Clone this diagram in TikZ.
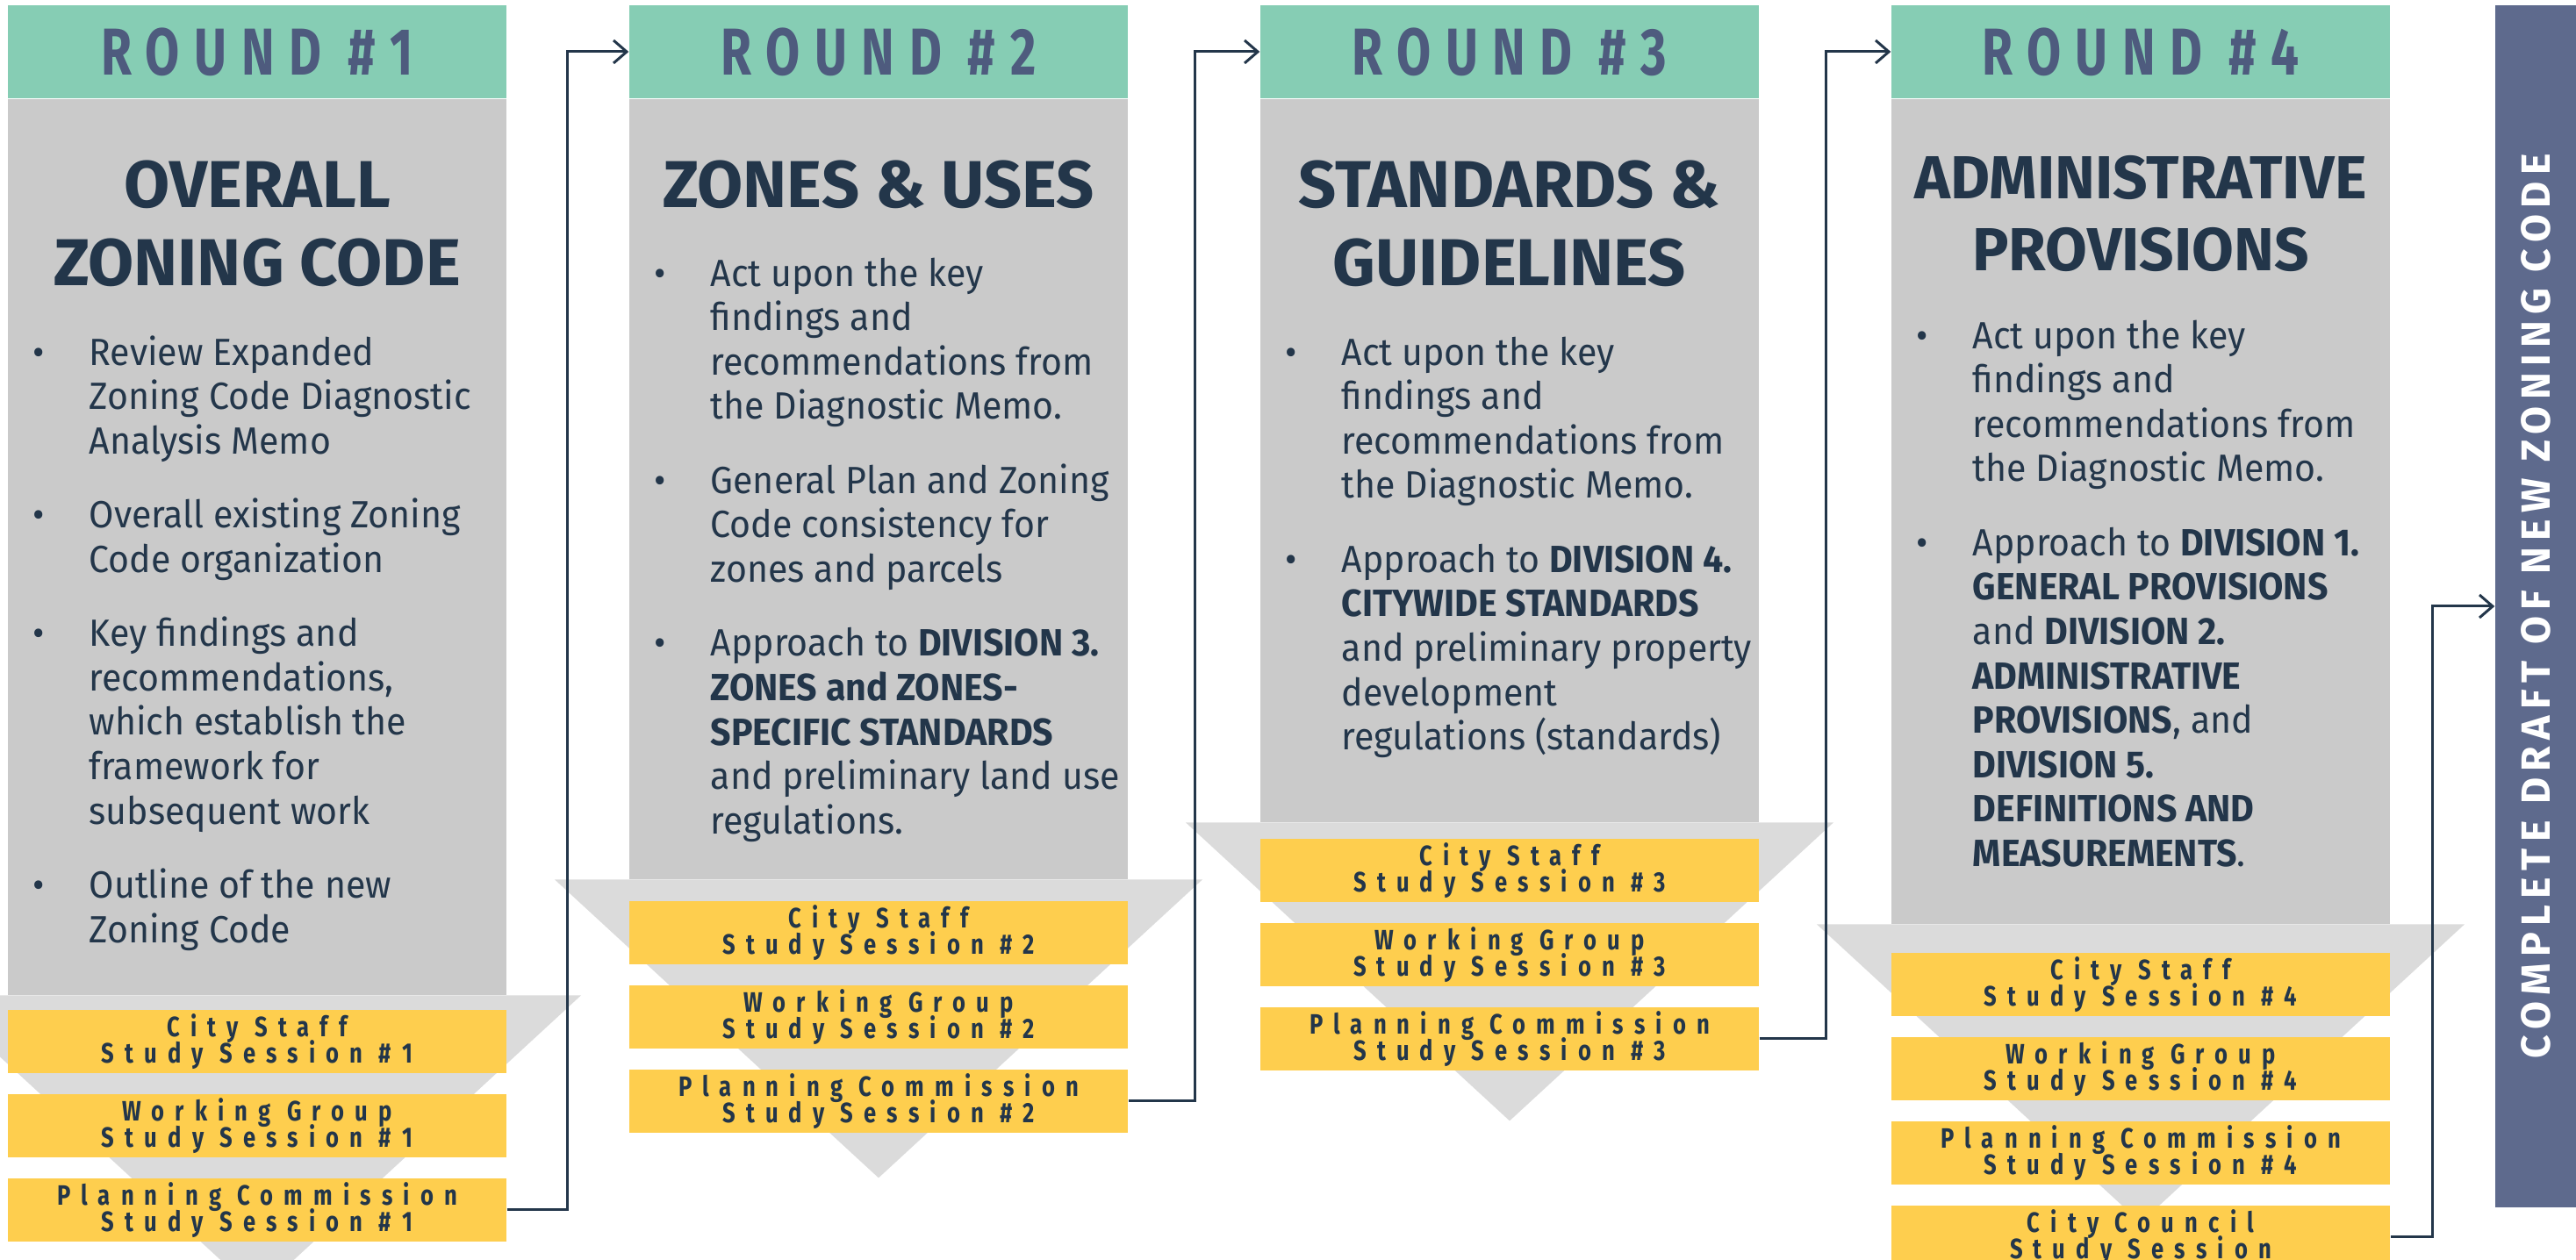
\documentclass[tikz,border=0pt]{standalone}
\usepackage{fontspec}
\setmainfont{Fira Sans}[FakeStretch=0.95]
\newfontfamily\titlefont{Fira Sans}
\newfontfamily\roundfont{Fira Sans}[FakeStretch=0.75,LetterSpace=22]
\newfontfamily\sessionfont{Fira Sans}[FakeStretch=0.8,LetterSpace=38]
\newfontfamily\draftfont{Fira Sans}[LetterSpace=16]
\usetikzlibrary{arrows.meta,positioning}

\definecolor{mint}{HTML}{86CDB4}
\definecolor{slate}{HTML}{4E5B7E}
\definecolor{panel}{HTML}{CACACA}
\definecolor{funnelgray}{HTML}{DBDBDB}
\definecolor{gold}{HTML}{FECE4E}
\definecolor{navy}{HTML}{23364A}
\definecolor{draftblue}{HTML}{5E6A8D}

% bullet and hanging indent for the task lists
\newcommand{\bul}{\makebox[0.64cm][l]{\strut\textbullet}}
\newcommand{\indt}{\hspace*{0.64cm}}
% keep the line pitch fixed, whatever the glyphs
\newcommand{\tight}{\lineskiplimit=-20pt\lineskip=0pt}

\begin{document}
\begin{tikzpicture}[x=1cm,y=1cm,
    roundhead/.style={fill=mint,minimum width=5.68cm,minimum height=1.06cm,inner sep=0,text=slate,
      font=\roundfont\bfseries\fontsize{21.5}{24}\selectfont},
    panelbox/.style={fill=panel,minimum width=5.68cm,inner sep=0},
    heading/.style={align=center,text=navy,font=\titlefont\bfseries\fontsize{21.5}{25.3}\selectfont\tight},
    notes/.style={anchor=north west,align=left,inner sep=0,text=navy,font=\fontsize{12.3}{14.4}\selectfont\tight},
    session/.style={fill=gold,minimum width=5.68cm,minimum height=0.72cm,inner sep=0,align=center,text=navy,
      font=\sessionfont\bfseries\fontsize{9.1}{8.5}\selectfont\tight},
    flow/.style={draw=navy,line width=0.85pt,-{Straight Barb[length=1.5mm,width=2.6mm]}}]
  \useasboundingbox (0,0) rectangle (29.35,-14.36);
  \clip (0,0) rectangle (29.35,-14.36);

  % four rounds: header, grey panel and funnel below it
  \foreach \i/\cx/\h in {1/2.93/10.21, 2/10.01/8.89, 3/17.20/8.24, 4/24.39/9.40} {
    \node[panelbox,minimum height=\h cm,anchor=north] (body\i) at (\cx,-1.12) {};
    \node[roundhead] (hd\i) at (\cx,-0.59) {ROUND \#\i};
    \fill[funnelgray] (body\i.south) ++(-3.69,0) -- ++(7.38,0) -- ++(-3.69,-3.40) -- cycle;
  }

  \node[heading] (title1) at (2.93,-2.545) {OVERALL\\ZONING CODE};
  \node[heading] (title2) at (10.01,-2.10) {ZONES \& USES};
  \node[heading] (title3) at (17.20,-2.55) {STANDARDS \&\\GUIDELINES};
  \node[heading,font=\titlefont\bfseries\fontsize{19.7}{23.5}\selectfont\tight] (title4) at (24.39,-2.435) {ADMINISTRATIVE\\PROVISIONS};

  \node[notes] (notes1) at (0.37,-3.80) {\bul Review Expanded\\ \indt Zoning Code Diagnostic\\ \indt Analysis Memo\\[9.6pt]
    \bul Overall existing Zoning\\ \indt Code organization\\[9.6pt]
    \bul Key findings and\\ \indt recommendations,\\ \indt which establish the\\ \indt framework for\\ \indt subsequent work\\[9.6pt]
    \bul Outline of the new\\ \indt Zoning Code};
  \node[notes] (notes2) at (7.45,-2.90) {\bul Act upon the key\\ \indt findings and\\ \indt recommendations from\\ \indt the Diagnostic Memo.\\[9.6pt]
    \bul General Plan and Zoning\\ \indt Code consistency for\\ \indt zones and parcels\\[9.6pt]
    \bul Approach to \textbf{DIVISION 3.}\\ \indt \textbf{ZONES and ZONES-}\\ \indt \textbf{SPECIFIC STANDARDS}\\ \indt and preliminary land use\\ \indt regulations.};
  \node[notes] (notes3) at (14.64,-3.80) {\bul Act upon the key\\ \indt findings and\\ \indt recommendations from\\ \indt the Diagnostic Memo.\\[9.6pt]
    \bul Approach to \textbf{DIVISION 4.}\\ \indt \textbf{CITYWIDE STANDARDS}\\ \indt and preliminary property\\ \indt development\\ \indt regulations (standards)};
  \node[notes] (notes4) at (21.83,-3.61) {\bul Act upon the key\\ \indt findings and\\ \indt recommendations from\\ \indt the Diagnostic Memo.\\[9.6pt]
    \bul Approach to \textbf{DIVISION 1.}\\ \indt \textbf{GENERAL PROVISIONS}\\ \indt and \textbf{DIVISION 2.}\\ \indt \textbf{ADMINISTRATIVE}\\ \indt \textbf{PROVISIONS}, and\\ \indt \textbf{DIVISION 5.}\\ \indt \textbf{DEFINITIONS AND}\\ \indt \textbf{MEASUREMENTS}.};

  % study sessions stacked in each funnel
  \foreach \i/\cx/\yt in {1/2.93/11.51, 2/10.01/10.27, 3/17.20/9.56, 4/24.39/10.86} {
    \node[session] (cs\i) at (\cx,-\yt-0.36) {City Staff\\Study Session \#\i};
    \node[session,below=0.225cm of cs\i] (wg\i) {Working Group\\Study Session \#\i};
    \node[session,below=0.225cm of wg\i] (pc\i) {Planning Commission\\Study Session \#\i};
  }
  \node[session,below=0.225cm of pc4] (cc4) {City Council\\Study Session};

  % final draft bar
  \node[fill=draftblue,minimum width=0.92cm,minimum height=13.70cm,inner sep=0] (bar) at (28.89,-6.91) {};
  \node[rotate=90,text=white,font=\draftfont\bfseries\fontsize{13.2}{14}\selectfont] (draft) at (bar.center) {COMPLETE DRAFT OF NEW ZONING CODE};

  \foreach \i/\j/\d in {1/2/0.69, 2/3/0.76, 3/4/0.76}
    \draw[flow] (pc\i.east) -- ++(\d,0) |- (hd\j.west);
  \draw[flow] (cc4.east) -- ++(0.48,0) |- (bar.west);
\end{tikzpicture}
\end{document}
